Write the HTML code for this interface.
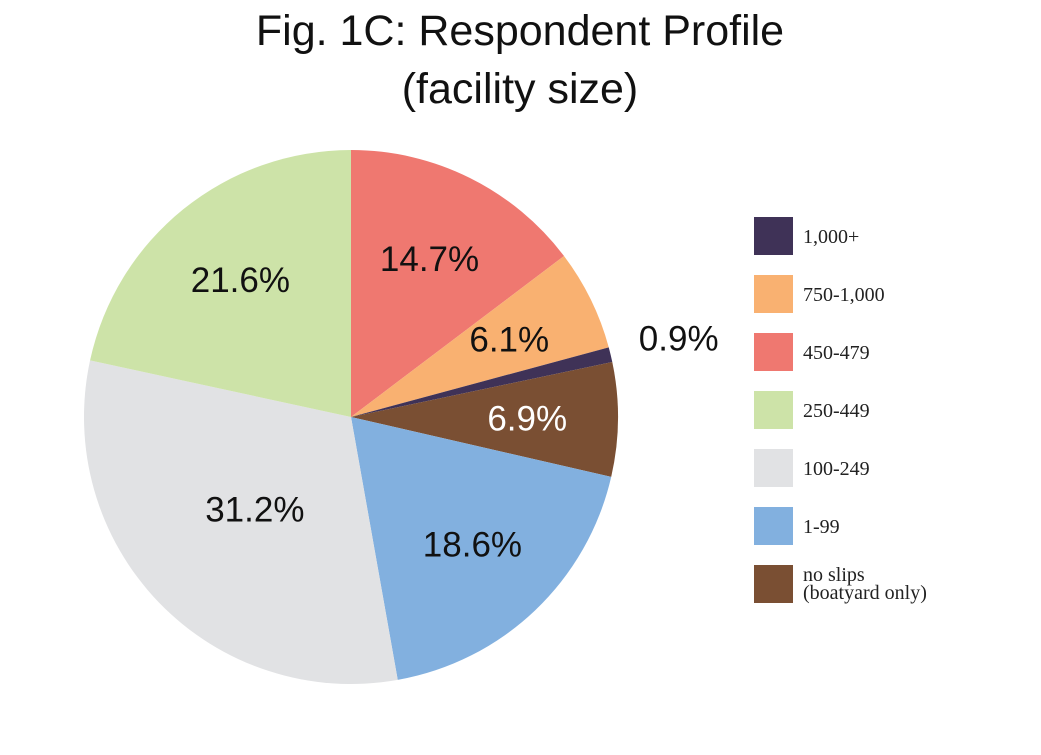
<!DOCTYPE html>
<html><head><meta charset="utf-8">
<style>
body{margin:0;background:#fff;width:1041px;height:750px;overflow:hidden;font-family:"Liberation Sans",sans-serif}
</style></head>
<body>
<svg width="1041" height="750">
<text x="520" y="45" text-anchor="middle" font-size="43" fill="#111">Fig. 1C: Respondent Profile</text>
<text x="520" y="103" text-anchor="middle" font-size="43" fill="#111">(facility size)</text>
<g id="slices"></g>
<g id="labels"></g>
<g id="legend"></g>
</svg>
<script>
const categories=["450-479","750-1,000","1,000+","no slips (boatyard only)","1-99","100-249","250-449"];
const values=[14.7,6.1,0.9,6.9,18.6,31.2,21.6];
const colors=["#ef7870","#f9b171","#3f3257","#7a4f33","#82b0df","#e1e2e4","#cde3a8"];
const labelColors=["#111","#111","#111","#fff","#111","#111","#111"];
const legendOrder=["1,000+","750-1,000","450-479","250-449","100-249","1-99","no slips (boatyard only)"];
const NS="http://www.w3.org/2000/svg";
const cx=351,cy=417,R=267;
const total=values.reduce((a,b)=>a+b,0);
function pt(a,r){return [cx+r*Math.sin(a),cy-r*Math.cos(a)];}
let acc=0;
const gs=document.getElementById('slices'),gl=document.getElementById('labels');
values.forEach((v,i)=>{
  const a0=acc/total*2*Math.PI;acc+=v;const a1=acc/total*2*Math.PI;
  const p0=pt(a0,R),p1=pt(a1,R);
  const p=document.createElementNS(NS,'path');
  p.setAttribute('d',`M${cx},${cy}L${p0[0]},${p0[1]}A${R},${R} 0 ${a1-a0>Math.PI?1:0} 1 ${p1[0]},${p1[1]}Z`);
  p.setAttribute('fill',colors[i]);
  
  
  gs.appendChild(p);
  const m=(a0+a1)/2;
  const small=v<3;
  const lr=small?R+70:R*(v>25?0.5:0.66);
  const lp=pt(m,lr);
  const t=document.createElementNS(NS,'text');
  t.setAttribute('x',lp[0]);t.setAttribute('y',lp[1]+12);
  t.setAttribute('text-anchor','middle');t.setAttribute('font-size','35');
  t.setAttribute('fill',small?'#111':labelColors[i]);
  t.textContent=v.toFixed(1)+'%';
  
  
  gl.appendChild(t);
});
const lg=document.getElementById('legend');
legendOrder.forEach((c,j)=>{
  const i=categories.indexOf(c);const y=217+j*58;
  const r=document.createElementNS(NS,'rect');
  r.setAttribute('x',754);r.setAttribute('y',y);r.setAttribute('width',39);r.setAttribute('height',38);
  r.setAttribute('fill',colors[i]);
  
  
  lg.appendChild(r);
  const t=document.createElementNS(NS,'text');
  t.setAttribute('x',803);t.setAttribute('font-size','20');t.setAttribute('fill','#222');
  t.setAttribute('font-family','"Liberation Serif",serif');
  
  
  if(c.startsWith('no slips')){
    t.setAttribute('y',y+16);
    const s1=document.createElementNS(NS,'tspan');s1.setAttribute('x',803);s1.textContent='no slips';
    const s2=document.createElementNS(NS,'tspan');s2.setAttribute('x',803);s2.setAttribute('dy','18');s2.textContent='(boatyard only)';
    t.appendChild(s1);t.appendChild(s2);
  } else {t.setAttribute('y',y+26);t.textContent=c;}
  lg.appendChild(t);
});
</script>
</body></html>
